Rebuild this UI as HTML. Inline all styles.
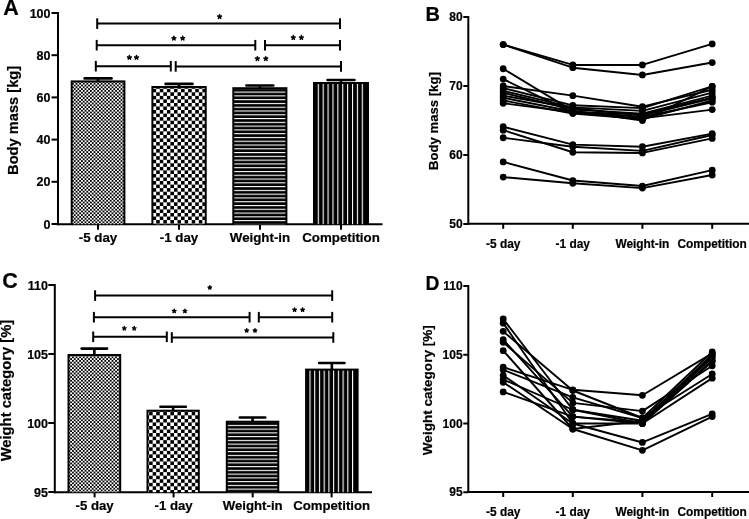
<!DOCTYPE html>
<html><head><meta charset="utf-8"><title>Figure</title>
<style>html,body{margin:0;padding:0;background:#fff;width:749px;height:519px;overflow:hidden}svg{display:block;will-change:transform}text{font-family:"Liberation Sans",sans-serif;font-weight:bold;stroke:#000;stroke-width:0.2px}</style>
</head><body>
<svg width="749" height="519" viewBox="0 0 749 519" font-family='"Liberation Sans", sans-serif' font-weight="bold">
<defs><pattern id="p1a" patternUnits="userSpaceOnUse" width="3.6" height="3.6"><rect width="3.6" height="3.6" fill="#fff"/><rect width="1.8" height="1.8" fill="#000"/><rect x="1.8" y="1.8" width="1.8" height="1.8" fill="#000"/></pattern><pattern id="p2a" patternUnits="userSpaceOnUse" width="7.1" height="7.1"><rect width="7.1" height="7.1" fill="#fff"/><rect width="3.55" height="3.55" fill="#000"/><rect x="3.55" y="3.55" width="3.55" height="3.55" fill="#000"/></pattern><pattern id="p3a" patternUnits="userSpaceOnUse" width="10" height="3.78" patternTransform="translate(0 152.050)"><rect width="10" height="3.78" fill="#000"/><rect y="0" width="10" height="1.1" fill="#fff"/></pattern><pattern id="p4a" patternUnits="userSpaceOnUse" width="4.89" height="10" patternTransform="translate(317.750 0)"><rect width="4.89" height="10" fill="#000"/><rect x="0" width="1.1" height="10" fill="#fff"/></pattern><pattern id="p1c" patternUnits="userSpaceOnUse" width="3.6" height="3.6"><rect width="3.6" height="3.6" fill="#fff"/><rect width="1.8" height="1.8" fill="#000"/><rect x="1.8" y="1.8" width="1.8" height="1.8" fill="#000"/></pattern><pattern id="p2c" patternUnits="userSpaceOnUse" width="7.1" height="7.1"><rect width="7.1" height="7.1" fill="#fff"/><rect width="3.55" height="3.55" fill="#000"/><rect x="3.55" y="3.55" width="3.55" height="3.55" fill="#000"/></pattern><pattern id="p3c" patternUnits="userSpaceOnUse" width="10" height="3.75" patternTransform="translate(0 439.850)"><rect width="10" height="3.75" fill="#000"/><rect y="0" width="10" height="1.1" fill="#fff"/></pattern><pattern id="p4c" patternUnits="userSpaceOnUse" width="4.73" height="10" patternTransform="translate(309.450 0)"><rect width="4.73" height="10" fill="#000"/><rect x="0" width="1.1" height="10" fill="#fff"/></pattern></defs>
<rect width="749" height="519" fill="#fff"/>
<line x1="58.00" y1="12.00" x2="58.00" y2="225.20" stroke="#000" stroke-width="2"/>
<line x1="51.50" y1="224.00" x2="58.00" y2="224.00" stroke="#000" stroke-width="2"/>
<text x="50.50" y="228.50" font-size="12.5" text-anchor="end" >0</text>
<line x1="51.50" y1="181.80" x2="58.00" y2="181.80" stroke="#000" stroke-width="2"/>
<text x="50.50" y="186.30" font-size="12.5" text-anchor="end" >20</text>
<line x1="51.50" y1="139.60" x2="58.00" y2="139.60" stroke="#000" stroke-width="2"/>
<text x="50.50" y="144.10" font-size="12.5" text-anchor="end" >40</text>
<line x1="51.50" y1="97.40" x2="58.00" y2="97.40" stroke="#000" stroke-width="2"/>
<text x="50.50" y="101.90" font-size="12.5" text-anchor="end" >60</text>
<line x1="51.50" y1="55.20" x2="58.00" y2="55.20" stroke="#000" stroke-width="2"/>
<text x="50.50" y="59.70" font-size="12.5" text-anchor="end" >80</text>
<line x1="51.50" y1="13.00" x2="58.00" y2="13.00" stroke="#000" stroke-width="2"/>
<text x="50.50" y="17.50" font-size="12.5" text-anchor="end" >100</text>
<line x1="57.00" y1="224.20" x2="382.50" y2="224.20" stroke="#000" stroke-width="2"/>
<line x1="98.00" y1="224.20" x2="98.00" y2="229.80" stroke="#000" stroke-width="2"/>
<text x="98.00" y="242.40" font-size="13.3" text-anchor="middle" >-5 day</text>
<line x1="179.00" y1="224.20" x2="179.00" y2="229.80" stroke="#000" stroke-width="2"/>
<text x="179.00" y="242.40" font-size="13.3" text-anchor="middle" >-1 day</text>
<line x1="260.00" y1="224.20" x2="260.00" y2="229.80" stroke="#000" stroke-width="2"/>
<text x="260.00" y="242.40" font-size="13.3" text-anchor="middle" >Weight-in</text>
<line x1="341.00" y1="224.20" x2="341.00" y2="229.80" stroke="#000" stroke-width="2"/>
<text x="341.00" y="242.40" font-size="13.3" text-anchor="middle" >Competition</text>
<line x1="98.05" y1="78.40" x2="98.05" y2="81.40" stroke="#000" stroke-width="2.6"/>
<line x1="84.60" y1="78.40" x2="111.50" y2="78.40" stroke="#000" stroke-width="2.6" stroke-linecap="round"/>
<rect x="70.70" y="80.40" width="54.70" height="143.80" fill="#000"/>
<rect x="72.70" y="82.40" width="50.70" height="141.80" fill="url(#p1a)"/>
<line x1="179.05" y1="83.90" x2="179.05" y2="87.00" stroke="#000" stroke-width="2.6"/>
<line x1="165.60" y1="83.90" x2="192.50" y2="83.90" stroke="#000" stroke-width="2.6" stroke-linecap="round"/>
<rect x="151.40" y="86.00" width="55.30" height="138.20" fill="#000"/>
<rect x="153.40" y="88.00" width="51.30" height="136.20" fill="url(#p2a)"/>
<line x1="259.85" y1="85.50" x2="259.85" y2="88.20" stroke="#000" stroke-width="2.6"/>
<line x1="246.40" y1="85.50" x2="273.30" y2="85.50" stroke="#000" stroke-width="2.6" stroke-linecap="round"/>
<rect x="232.30" y="87.20" width="55.10" height="137.00" fill="#000"/>
<rect x="234.30" y="89.20" width="51.10" height="135.00" fill="url(#p3a)"/>
<line x1="341.00" y1="80.00" x2="341.00" y2="83.00" stroke="#000" stroke-width="2.6"/>
<line x1="327.55" y1="80.00" x2="354.45" y2="80.00" stroke="#000" stroke-width="2.6" stroke-linecap="round"/>
<rect x="313.00" y="82.00" width="56.00" height="142.20" fill="#000"/>
<rect x="315.00" y="84.00" width="51.00" height="140.20" fill="url(#p4a)"/>
<line x1="97.20" y1="23.60" x2="340.00" y2="23.60" stroke="#000" stroke-width="2"/>
<line x1="97.20" y1="18.30" x2="97.20" y2="28.90" stroke="#000" stroke-width="2"/>
<line x1="340.00" y1="18.30" x2="340.00" y2="28.90" stroke="#000" stroke-width="2"/>
<line x1="96.70" y1="45.20" x2="255.30" y2="45.20" stroke="#000" stroke-width="2"/>
<line x1="96.70" y1="39.90" x2="96.70" y2="50.50" stroke="#000" stroke-width="2"/>
<line x1="255.30" y1="39.90" x2="255.30" y2="50.50" stroke="#000" stroke-width="2"/>
<line x1="265.00" y1="45.20" x2="340.00" y2="45.20" stroke="#000" stroke-width="2"/>
<line x1="265.00" y1="39.90" x2="265.00" y2="50.50" stroke="#000" stroke-width="2"/>
<line x1="340.00" y1="39.90" x2="340.00" y2="50.50" stroke="#000" stroke-width="2"/>
<line x1="95.80" y1="66.20" x2="170.80" y2="66.20" stroke="#000" stroke-width="2"/>
<line x1="95.80" y1="60.90" x2="95.80" y2="71.50" stroke="#000" stroke-width="2"/>
<line x1="170.80" y1="60.90" x2="170.80" y2="71.50" stroke="#000" stroke-width="2"/>
<line x1="175.70" y1="66.40" x2="341.00" y2="66.40" stroke="#000" stroke-width="2"/>
<line x1="175.70" y1="61.10" x2="175.70" y2="71.70" stroke="#000" stroke-width="2"/>
<line x1="341.00" y1="61.10" x2="341.00" y2="71.70" stroke="#000" stroke-width="2"/>
<path d="M219.60 16.70L219.60 14.75M219.60 16.70L221.45 16.10M219.60 16.70L220.75 18.28M219.60 16.70L218.45 18.28M219.60 16.70L217.75 16.10" stroke="#000" stroke-width="1.6" stroke-linecap="round" fill="none"/>
<path d="M173.90 38.30L173.90 36.35M173.90 38.30L175.75 37.70M173.90 38.30L175.05 39.88M173.90 38.30L172.75 39.88M173.90 38.30L172.05 37.70" stroke="#000" stroke-width="1.6" stroke-linecap="round" fill="none"/>
<path d="M182.70 38.30L182.70 36.35M182.70 38.30L184.55 37.70M182.70 38.30L183.85 39.88M182.70 38.30L181.55 39.88M182.70 38.30L180.85 37.70" stroke="#000" stroke-width="1.6" stroke-linecap="round" fill="none"/>
<path d="M293.30 37.60L293.30 35.65M293.30 37.60L295.15 37.00M293.30 37.60L294.45 39.18M293.30 37.60L292.15 39.18M293.30 37.60L291.45 37.00" stroke="#000" stroke-width="1.6" stroke-linecap="round" fill="none"/>
<path d="M301.40 37.60L301.40 35.65M301.40 37.60L303.25 37.00M301.40 37.60L302.55 39.18M301.40 37.60L300.25 39.18M301.40 37.60L299.55 37.00" stroke="#000" stroke-width="1.6" stroke-linecap="round" fill="none"/>
<path d="M129.40 57.50L129.40 55.55M129.40 57.50L131.25 56.90M129.40 57.50L130.55 59.08M129.40 57.50L128.25 59.08M129.40 57.50L127.55 56.90" stroke="#000" stroke-width="1.6" stroke-linecap="round" fill="none"/>
<path d="M136.50 57.50L136.50 55.55M136.50 57.50L138.35 56.90M136.50 57.50L137.65 59.08M136.50 57.50L135.35 59.08M136.50 57.50L134.65 56.90" stroke="#000" stroke-width="1.6" stroke-linecap="round" fill="none"/>
<path d="M257.40 58.70L257.40 56.75M257.40 58.70L259.25 58.10M257.40 58.70L258.55 60.28M257.40 58.70L256.25 60.28M257.40 58.70L255.55 58.10" stroke="#000" stroke-width="1.6" stroke-linecap="round" fill="none"/>
<path d="M265.80 58.70L265.80 56.75M265.80 58.70L267.65 58.10M265.80 58.70L266.95 60.28M265.80 58.70L264.65 60.28M265.80 58.70L263.95 58.10" stroke="#000" stroke-width="1.6" stroke-linecap="round" fill="none"/>
<text x="18.3" y="120.4" font-size="14.65" text-anchor="middle" transform="rotate(-90 18.3 120.4)">Body mass [kg]</text>
<text x="3.20" y="14.60" font-size="21.5" text-anchor="start" >A</text>
<line x1="54.80" y1="284.00" x2="54.80" y2="493.20" stroke="#000" stroke-width="2"/>
<line x1="48.30" y1="285.00" x2="54.80" y2="285.00" stroke="#000" stroke-width="2"/>
<text x="48.00" y="289.50" font-size="12.5" text-anchor="end" >110</text>
<line x1="48.30" y1="354.00" x2="54.80" y2="354.00" stroke="#000" stroke-width="2"/>
<text x="48.00" y="358.50" font-size="12.5" text-anchor="end" >105</text>
<line x1="48.30" y1="423.00" x2="54.80" y2="423.00" stroke="#000" stroke-width="2"/>
<text x="48.00" y="427.50" font-size="12.5" text-anchor="end" >100</text>
<line x1="48.30" y1="492.00" x2="54.80" y2="492.00" stroke="#000" stroke-width="2"/>
<text x="48.00" y="496.50" font-size="12.5" text-anchor="end" >95</text>
<line x1="53.80" y1="492.20" x2="372.00" y2="492.20" stroke="#000" stroke-width="2"/>
<line x1="94.60" y1="492.20" x2="94.60" y2="497.40" stroke="#000" stroke-width="2"/>
<text x="94.60" y="510.40" font-size="13.2" text-anchor="middle" >-5 day</text>
<line x1="173.60" y1="492.20" x2="173.60" y2="497.40" stroke="#000" stroke-width="2"/>
<text x="173.60" y="510.40" font-size="13.2" text-anchor="middle" >-1 day</text>
<line x1="252.70" y1="492.20" x2="252.70" y2="497.40" stroke="#000" stroke-width="2"/>
<text x="252.70" y="510.40" font-size="13.2" text-anchor="middle" >Weight-in</text>
<line x1="331.60" y1="492.20" x2="331.60" y2="497.40" stroke="#000" stroke-width="2"/>
<text x="331.60" y="510.40" font-size="13.2" text-anchor="middle" >Competition</text>
<line x1="94.35" y1="348.60" x2="94.35" y2="355.00" stroke="#000" stroke-width="2.6"/>
<line x1="81.65" y1="348.60" x2="107.05" y2="348.60" stroke="#000" stroke-width="2.6" stroke-linecap="round"/>
<rect x="67.50" y="354.00" width="53.70" height="138.20" fill="#000"/>
<rect x="69.50" y="356.00" width="49.70" height="136.20" fill="url(#p1c)"/>
<line x1="173.15" y1="406.70" x2="173.15" y2="410.70" stroke="#000" stroke-width="2.6"/>
<line x1="160.45" y1="406.70" x2="185.85" y2="406.70" stroke="#000" stroke-width="2.6" stroke-linecap="round"/>
<rect x="146.50" y="409.70" width="53.30" height="82.50" fill="#000"/>
<rect x="148.50" y="411.70" width="49.30" height="80.50" fill="url(#p2c)"/>
<line x1="252.55" y1="417.50" x2="252.55" y2="421.70" stroke="#000" stroke-width="2.6"/>
<line x1="239.85" y1="417.50" x2="265.25" y2="417.50" stroke="#000" stroke-width="2.6" stroke-linecap="round"/>
<rect x="225.80" y="420.70" width="53.50" height="71.50" fill="#000"/>
<rect x="227.80" y="422.70" width="49.50" height="69.50" fill="url(#p3c)"/>
<line x1="331.85" y1="363.00" x2="331.85" y2="369.60" stroke="#000" stroke-width="2.6"/>
<line x1="319.15" y1="363.00" x2="344.55" y2="363.00" stroke="#000" stroke-width="2.6" stroke-linecap="round"/>
<rect x="305.10" y="368.60" width="53.50" height="123.60" fill="#000"/>
<rect x="307.10" y="370.60" width="48.50" height="121.60" fill="url(#p4c)"/>
<line x1="95.10" y1="295.60" x2="332.20" y2="295.60" stroke="#000" stroke-width="2"/>
<line x1="95.10" y1="290.30" x2="95.10" y2="300.90" stroke="#000" stroke-width="2"/>
<line x1="332.20" y1="290.30" x2="332.20" y2="300.90" stroke="#000" stroke-width="2"/>
<line x1="93.90" y1="317.20" x2="249.60" y2="317.20" stroke="#000" stroke-width="2"/>
<line x1="93.90" y1="311.90" x2="93.90" y2="322.50" stroke="#000" stroke-width="2"/>
<line x1="249.60" y1="311.90" x2="249.60" y2="322.50" stroke="#000" stroke-width="2"/>
<line x1="258.80" y1="317.20" x2="332.20" y2="317.20" stroke="#000" stroke-width="2"/>
<line x1="258.80" y1="311.90" x2="258.80" y2="322.50" stroke="#000" stroke-width="2"/>
<line x1="332.20" y1="311.90" x2="332.20" y2="322.50" stroke="#000" stroke-width="2"/>
<line x1="93.20" y1="336.80" x2="166.80" y2="336.80" stroke="#000" stroke-width="2"/>
<line x1="93.20" y1="331.50" x2="93.20" y2="342.10" stroke="#000" stroke-width="2"/>
<line x1="166.80" y1="331.50" x2="166.80" y2="342.10" stroke="#000" stroke-width="2"/>
<line x1="171.80" y1="337.50" x2="333.30" y2="337.50" stroke="#000" stroke-width="2"/>
<line x1="171.80" y1="332.20" x2="171.80" y2="342.80" stroke="#000" stroke-width="2"/>
<line x1="333.30" y1="332.20" x2="333.30" y2="342.80" stroke="#000" stroke-width="2"/>
<path d="M209.80 287.50L209.80 285.70M209.80 287.50L211.51 286.94M209.80 287.50L210.86 288.96M209.80 287.50L208.74 288.96M209.80 287.50L208.09 286.94" stroke="#000" stroke-width="1.5" stroke-linecap="round" fill="none"/>
<path d="M174.20 311.10L174.20 309.30M174.20 311.10L175.91 310.54M174.20 311.10L175.26 312.56M174.20 311.10L173.14 312.56M174.20 311.10L172.49 310.54" stroke="#000" stroke-width="1.5" stroke-linecap="round" fill="none"/>
<path d="M184.90 311.10L184.90 309.30M184.90 311.10L186.61 310.54M184.90 311.10L185.96 312.56M184.90 311.10L183.84 312.56M184.90 311.10L183.19 310.54" stroke="#000" stroke-width="1.5" stroke-linecap="round" fill="none"/>
<path d="M294.60 309.80L294.60 308.00M294.60 309.80L296.31 309.24M294.60 309.80L295.66 311.26M294.60 309.80L293.54 311.26M294.60 309.80L292.89 309.24" stroke="#000" stroke-width="1.5" stroke-linecap="round" fill="none"/>
<path d="M302.60 309.80L302.60 308.00M302.60 309.80L304.31 309.24M302.60 309.80L303.66 311.26M302.60 309.80L301.54 311.26M302.60 309.80L300.89 309.24" stroke="#000" stroke-width="1.5" stroke-linecap="round" fill="none"/>
<path d="M124.30 328.40L124.30 326.60M124.30 328.40L126.01 327.84M124.30 328.40L125.36 329.86M124.30 328.40L123.24 329.86M124.30 328.40L122.59 327.84" stroke="#000" stroke-width="1.5" stroke-linecap="round" fill="none"/>
<path d="M134.20 328.40L134.20 326.60M134.20 328.40L135.91 327.84M134.20 328.40L135.26 329.86M134.20 328.40L133.14 329.86M134.20 328.40L132.49 327.84" stroke="#000" stroke-width="1.5" stroke-linecap="round" fill="none"/>
<path d="M246.70 330.50L246.70 328.70M246.70 330.50L248.41 329.94M246.70 330.50L247.76 331.96M246.70 330.50L245.64 331.96M246.70 330.50L244.99 329.94" stroke="#000" stroke-width="1.5" stroke-linecap="round" fill="none"/>
<path d="M255.00 330.50L255.00 328.70M255.00 330.50L256.71 329.94M255.00 330.50L256.06 331.96M255.00 330.50L253.94 331.96M255.00 330.50L253.29 329.94" stroke="#000" stroke-width="1.5" stroke-linecap="round" fill="none"/>
<text x="10.9" y="390.6" font-size="14.75" text-anchor="middle" transform="rotate(-90 10.9 390.6)">Weight category [%]</text>
<text x="2.30" y="288.30" font-size="21.5" text-anchor="start" >C</text>
<line x1="468.30" y1="16.00" x2="468.30" y2="224.80" stroke="#000" stroke-width="2"/>
<line x1="463.30" y1="17.00" x2="468.30" y2="17.00" stroke="#000" stroke-width="2"/>
<text x="462.60" y="21.10" font-size="12" text-anchor="end" >80</text>
<line x1="463.30" y1="86.00" x2="468.30" y2="86.00" stroke="#000" stroke-width="2"/>
<text x="462.60" y="90.10" font-size="12" text-anchor="end" >70</text>
<line x1="463.30" y1="155.00" x2="468.30" y2="155.00" stroke="#000" stroke-width="2"/>
<text x="462.60" y="159.10" font-size="12" text-anchor="end" >60</text>
<line x1="463.30" y1="224.00" x2="468.30" y2="224.00" stroke="#000" stroke-width="2"/>
<text x="462.60" y="228.10" font-size="12" text-anchor="end" >50</text>
<line x1="467.30" y1="223.80" x2="749.00" y2="223.80" stroke="#000" stroke-width="2"/>
<line x1="503.20" y1="223.80" x2="503.20" y2="228.80" stroke="#000" stroke-width="2"/>
<text x="503.20" y="247.70" font-size="11.9" text-anchor="middle" >-5 day</text>
<line x1="572.80" y1="223.80" x2="572.80" y2="228.80" stroke="#000" stroke-width="2"/>
<text x="572.80" y="247.70" font-size="11.9" text-anchor="middle" >-1 day</text>
<line x1="642.40" y1="223.80" x2="642.40" y2="228.80" stroke="#000" stroke-width="2"/>
<text x="642.40" y="247.70" font-size="11.9" text-anchor="middle" >Weight-in</text>
<line x1="712.20" y1="223.80" x2="712.20" y2="228.80" stroke="#000" stroke-width="2"/>
<text x="712.20" y="247.70" font-size="11.9" text-anchor="middle" >Competition</text>
<polyline points="503.20,44.60 572.80,64.96 642.40,64.96 712.20,43.91" fill="none" stroke="#000" stroke-width="1.9" stroke-linejoin="round"/>
<polyline points="503.20,44.60 572.80,67.71 642.40,74.96 712.20,62.54" fill="none" stroke="#000" stroke-width="1.9" stroke-linejoin="round"/>
<polyline points="503.20,68.75 572.80,110.84 642.40,120.50 712.20,86.41" fill="none" stroke="#000" stroke-width="1.9" stroke-linejoin="round"/>
<polyline points="503.20,79.10 572.80,112.91 642.40,118.43 712.20,109.60" fill="none" stroke="#000" stroke-width="1.9" stroke-linejoin="round"/>
<polyline points="503.20,86.00 572.80,95.66 642.40,106.70 712.20,89.79" fill="none" stroke="#000" stroke-width="1.9" stroke-linejoin="round"/>
<polyline points="503.20,88.07 572.80,105.32 642.40,108.08 712.20,86.41" fill="none" stroke="#000" stroke-width="1.9" stroke-linejoin="round"/>
<polyline points="503.20,90.83 572.80,107.39 642.40,110.84 712.20,92.62" fill="none" stroke="#000" stroke-width="1.9" stroke-linejoin="round"/>
<polyline points="503.20,92.90 572.80,109.46 642.40,113.60 712.20,95.66" fill="none" stroke="#000" stroke-width="1.9" stroke-linejoin="round"/>
<polyline points="503.20,95.66 572.80,108.08 642.40,115.67 712.20,98.28" fill="none" stroke="#000" stroke-width="1.9" stroke-linejoin="round"/>
<polyline points="503.20,97.73 572.80,111.53 642.40,117.05 712.20,102.21" fill="none" stroke="#000" stroke-width="1.9" stroke-linejoin="round"/>
<polyline points="503.20,100.49 572.80,113.60 642.40,119.12 712.20,100.49" fill="none" stroke="#000" stroke-width="1.9" stroke-linejoin="round"/>
<polyline points="503.20,103.25 572.80,112.22 642.40,114.29 712.20,97.73" fill="none" stroke="#000" stroke-width="1.9" stroke-linejoin="round"/>
<polyline points="503.20,126.71 572.80,144.65 642.40,146.72 712.20,133.61" fill="none" stroke="#000" stroke-width="1.9" stroke-linejoin="round"/>
<polyline points="503.20,130.16 572.80,152.24 642.40,152.93 712.20,138.44" fill="none" stroke="#000" stroke-width="1.9" stroke-linejoin="round"/>
<polyline points="503.20,137.75 572.80,146.72 642.40,150.86 712.20,134.99" fill="none" stroke="#000" stroke-width="1.9" stroke-linejoin="round"/>
<polyline points="503.20,161.90 572.80,180.53 642.40,186.05 712.20,170.18" fill="none" stroke="#000" stroke-width="1.9" stroke-linejoin="round"/>
<polyline points="503.20,177.08 572.80,183.29 642.40,188.12 712.20,175.01" fill="none" stroke="#000" stroke-width="1.9" stroke-linejoin="round"/>
<circle cx="503.20" cy="44.60" r="3.4" fill="#000"/>
<circle cx="572.80" cy="64.96" r="3.4" fill="#000"/>
<circle cx="642.40" cy="64.96" r="3.4" fill="#000"/>
<circle cx="712.20" cy="43.91" r="3.4" fill="#000"/>
<circle cx="503.20" cy="44.60" r="3.4" fill="#000"/>
<circle cx="572.80" cy="67.71" r="3.4" fill="#000"/>
<circle cx="642.40" cy="74.96" r="3.4" fill="#000"/>
<circle cx="712.20" cy="62.54" r="3.4" fill="#000"/>
<circle cx="503.20" cy="68.75" r="3.4" fill="#000"/>
<circle cx="572.80" cy="110.84" r="3.4" fill="#000"/>
<circle cx="642.40" cy="120.50" r="3.4" fill="#000"/>
<circle cx="712.20" cy="86.41" r="3.4" fill="#000"/>
<circle cx="503.20" cy="79.10" r="3.4" fill="#000"/>
<circle cx="572.80" cy="112.91" r="3.4" fill="#000"/>
<circle cx="642.40" cy="118.43" r="3.4" fill="#000"/>
<circle cx="712.20" cy="109.60" r="3.4" fill="#000"/>
<circle cx="503.20" cy="86.00" r="3.4" fill="#000"/>
<circle cx="572.80" cy="95.66" r="3.4" fill="#000"/>
<circle cx="642.40" cy="106.70" r="3.4" fill="#000"/>
<circle cx="712.20" cy="89.79" r="3.4" fill="#000"/>
<circle cx="503.20" cy="88.07" r="3.4" fill="#000"/>
<circle cx="572.80" cy="105.32" r="3.4" fill="#000"/>
<circle cx="642.40" cy="108.08" r="3.4" fill="#000"/>
<circle cx="712.20" cy="86.41" r="3.4" fill="#000"/>
<circle cx="503.20" cy="90.83" r="3.4" fill="#000"/>
<circle cx="572.80" cy="107.39" r="3.4" fill="#000"/>
<circle cx="642.40" cy="110.84" r="3.4" fill="#000"/>
<circle cx="712.20" cy="92.62" r="3.4" fill="#000"/>
<circle cx="503.20" cy="92.90" r="3.4" fill="#000"/>
<circle cx="572.80" cy="109.46" r="3.4" fill="#000"/>
<circle cx="642.40" cy="113.60" r="3.4" fill="#000"/>
<circle cx="712.20" cy="95.66" r="3.4" fill="#000"/>
<circle cx="503.20" cy="95.66" r="3.4" fill="#000"/>
<circle cx="572.80" cy="108.08" r="3.4" fill="#000"/>
<circle cx="642.40" cy="115.67" r="3.4" fill="#000"/>
<circle cx="712.20" cy="98.28" r="3.4" fill="#000"/>
<circle cx="503.20" cy="97.73" r="3.4" fill="#000"/>
<circle cx="572.80" cy="111.53" r="3.4" fill="#000"/>
<circle cx="642.40" cy="117.05" r="3.4" fill="#000"/>
<circle cx="712.20" cy="102.21" r="3.4" fill="#000"/>
<circle cx="503.20" cy="100.49" r="3.4" fill="#000"/>
<circle cx="572.80" cy="113.60" r="3.4" fill="#000"/>
<circle cx="642.40" cy="119.12" r="3.4" fill="#000"/>
<circle cx="712.20" cy="100.49" r="3.4" fill="#000"/>
<circle cx="503.20" cy="103.25" r="3.4" fill="#000"/>
<circle cx="572.80" cy="112.22" r="3.4" fill="#000"/>
<circle cx="642.40" cy="114.29" r="3.4" fill="#000"/>
<circle cx="712.20" cy="97.73" r="3.4" fill="#000"/>
<circle cx="503.20" cy="126.71" r="3.4" fill="#000"/>
<circle cx="572.80" cy="144.65" r="3.4" fill="#000"/>
<circle cx="642.40" cy="146.72" r="3.4" fill="#000"/>
<circle cx="712.20" cy="133.61" r="3.4" fill="#000"/>
<circle cx="503.20" cy="130.16" r="3.4" fill="#000"/>
<circle cx="572.80" cy="152.24" r="3.4" fill="#000"/>
<circle cx="642.40" cy="152.93" r="3.4" fill="#000"/>
<circle cx="712.20" cy="138.44" r="3.4" fill="#000"/>
<circle cx="503.20" cy="137.75" r="3.4" fill="#000"/>
<circle cx="572.80" cy="146.72" r="3.4" fill="#000"/>
<circle cx="642.40" cy="150.86" r="3.4" fill="#000"/>
<circle cx="712.20" cy="134.99" r="3.4" fill="#000"/>
<circle cx="503.20" cy="161.90" r="3.4" fill="#000"/>
<circle cx="572.80" cy="180.53" r="3.4" fill="#000"/>
<circle cx="642.40" cy="186.05" r="3.4" fill="#000"/>
<circle cx="712.20" cy="170.18" r="3.4" fill="#000"/>
<circle cx="503.20" cy="177.08" r="3.4" fill="#000"/>
<circle cx="572.80" cy="183.29" r="3.4" fill="#000"/>
<circle cx="642.40" cy="188.12" r="3.4" fill="#000"/>
<circle cx="712.20" cy="175.01" r="3.4" fill="#000"/>
<text x="438" y="121.1" font-size="13.15" text-anchor="middle" transform="rotate(-90 438 121.1)">Body mass [kg]</text>
<text x="425.50" y="20.90" font-size="20" text-anchor="start" >B</text>
<line x1="468.30" y1="285.00" x2="468.30" y2="493.00" stroke="#000" stroke-width="2"/>
<line x1="463.30" y1="286.00" x2="468.30" y2="286.00" stroke="#000" stroke-width="2"/>
<text x="462.60" y="290.10" font-size="12" text-anchor="end" >110</text>
<line x1="463.30" y1="354.75" x2="468.30" y2="354.75" stroke="#000" stroke-width="2"/>
<text x="462.60" y="358.85" font-size="12" text-anchor="end" >105</text>
<line x1="463.30" y1="423.50" x2="468.30" y2="423.50" stroke="#000" stroke-width="2"/>
<text x="462.60" y="427.60" font-size="12" text-anchor="end" >100</text>
<line x1="463.30" y1="492.25" x2="468.30" y2="492.25" stroke="#000" stroke-width="2"/>
<text x="462.60" y="496.35" font-size="12" text-anchor="end" >95</text>
<line x1="467.30" y1="492.00" x2="749.00" y2="492.00" stroke="#000" stroke-width="2"/>
<line x1="503.20" y1="492.00" x2="503.20" y2="497.00" stroke="#000" stroke-width="2"/>
<text x="503.20" y="515.70" font-size="11.9" text-anchor="middle" >-5 day</text>
<line x1="572.80" y1="492.00" x2="572.80" y2="497.00" stroke="#000" stroke-width="2"/>
<text x="572.80" y="515.70" font-size="11.9" text-anchor="middle" >-1 day</text>
<line x1="642.40" y1="492.00" x2="642.40" y2="497.00" stroke="#000" stroke-width="2"/>
<text x="642.40" y="515.70" font-size="11.9" text-anchor="middle" >Weight-in</text>
<line x1="712.20" y1="492.00" x2="712.20" y2="497.00" stroke="#000" stroke-width="2"/>
<text x="712.20" y="515.70" font-size="11.9" text-anchor="middle" >Competition</text>
<polyline points="503.20,319.00 572.80,409.75 642.40,420.75 712.20,354.75" fill="none" stroke="#000" stroke-width="1.9" stroke-linejoin="round"/>
<polyline points="503.20,323.13 572.80,423.50 642.40,423.50 712.20,361.62" fill="none" stroke="#000" stroke-width="1.9" stroke-linejoin="round"/>
<polyline points="503.20,331.37 572.80,390.50 642.40,418.00 712.20,352.00" fill="none" stroke="#000" stroke-width="1.9" stroke-linejoin="round"/>
<polyline points="503.20,339.63 572.80,416.62 642.40,422.13 712.20,357.50" fill="none" stroke="#000" stroke-width="1.9" stroke-linejoin="round"/>
<polyline points="503.20,342.37 572.80,402.88 642.40,411.12 712.20,365.75" fill="none" stroke="#000" stroke-width="1.9" stroke-linejoin="round"/>
<polyline points="503.20,350.63 572.80,429.00 642.40,450.31 712.20,416.62" fill="none" stroke="#000" stroke-width="1.9" stroke-linejoin="round"/>
<polyline points="503.20,367.13 572.80,389.81 642.40,395.31 712.20,353.38" fill="none" stroke="#000" stroke-width="1.9" stroke-linejoin="round"/>
<polyline points="503.20,369.87 572.80,397.37 642.40,418.00 712.20,374.00" fill="none" stroke="#000" stroke-width="1.9" stroke-linejoin="round"/>
<polyline points="503.20,375.38 572.80,423.50 642.40,442.47 712.20,413.87" fill="none" stroke="#000" stroke-width="1.9" stroke-linejoin="round"/>
<polyline points="503.20,379.50 572.80,409.75 642.40,423.50 712.20,378.13" fill="none" stroke="#000" stroke-width="1.9" stroke-linejoin="round"/>
<polyline points="503.20,382.25 572.80,429.00 642.40,420.75 712.20,356.12" fill="none" stroke="#000" stroke-width="1.9" stroke-linejoin="round"/>
<polyline points="503.20,391.88 572.80,416.62 642.40,423.50 712.20,360.25" fill="none" stroke="#000" stroke-width="1.9" stroke-linejoin="round"/>
<circle cx="503.20" cy="319.00" r="3.4" fill="#000"/>
<circle cx="572.80" cy="409.75" r="3.4" fill="#000"/>
<circle cx="642.40" cy="420.75" r="3.4" fill="#000"/>
<circle cx="712.20" cy="354.75" r="3.4" fill="#000"/>
<circle cx="503.20" cy="323.13" r="3.4" fill="#000"/>
<circle cx="572.80" cy="423.50" r="3.4" fill="#000"/>
<circle cx="642.40" cy="423.50" r="3.4" fill="#000"/>
<circle cx="712.20" cy="361.62" r="3.4" fill="#000"/>
<circle cx="503.20" cy="331.37" r="3.4" fill="#000"/>
<circle cx="572.80" cy="390.50" r="3.4" fill="#000"/>
<circle cx="642.40" cy="418.00" r="3.4" fill="#000"/>
<circle cx="712.20" cy="352.00" r="3.4" fill="#000"/>
<circle cx="503.20" cy="339.63" r="3.4" fill="#000"/>
<circle cx="572.80" cy="416.62" r="3.4" fill="#000"/>
<circle cx="642.40" cy="422.13" r="3.4" fill="#000"/>
<circle cx="712.20" cy="357.50" r="3.4" fill="#000"/>
<circle cx="503.20" cy="342.37" r="3.4" fill="#000"/>
<circle cx="572.80" cy="402.88" r="3.4" fill="#000"/>
<circle cx="642.40" cy="411.12" r="3.4" fill="#000"/>
<circle cx="712.20" cy="365.75" r="3.4" fill="#000"/>
<circle cx="503.20" cy="350.63" r="3.4" fill="#000"/>
<circle cx="572.80" cy="429.00" r="3.4" fill="#000"/>
<circle cx="642.40" cy="450.31" r="3.4" fill="#000"/>
<circle cx="712.20" cy="416.62" r="3.4" fill="#000"/>
<circle cx="503.20" cy="367.13" r="3.4" fill="#000"/>
<circle cx="572.80" cy="389.81" r="3.4" fill="#000"/>
<circle cx="642.40" cy="395.31" r="3.4" fill="#000"/>
<circle cx="712.20" cy="353.38" r="3.4" fill="#000"/>
<circle cx="503.20" cy="369.87" r="3.4" fill="#000"/>
<circle cx="572.80" cy="397.37" r="3.4" fill="#000"/>
<circle cx="642.40" cy="418.00" r="3.4" fill="#000"/>
<circle cx="712.20" cy="374.00" r="3.4" fill="#000"/>
<circle cx="503.20" cy="375.38" r="3.4" fill="#000"/>
<circle cx="572.80" cy="423.50" r="3.4" fill="#000"/>
<circle cx="642.40" cy="442.47" r="3.4" fill="#000"/>
<circle cx="712.20" cy="413.87" r="3.4" fill="#000"/>
<circle cx="503.20" cy="379.50" r="3.4" fill="#000"/>
<circle cx="572.80" cy="409.75" r="3.4" fill="#000"/>
<circle cx="642.40" cy="423.50" r="3.4" fill="#000"/>
<circle cx="712.20" cy="378.13" r="3.4" fill="#000"/>
<circle cx="503.20" cy="382.25" r="3.4" fill="#000"/>
<circle cx="572.80" cy="429.00" r="3.4" fill="#000"/>
<circle cx="642.40" cy="420.75" r="3.4" fill="#000"/>
<circle cx="712.20" cy="356.12" r="3.4" fill="#000"/>
<circle cx="503.20" cy="391.88" r="3.4" fill="#000"/>
<circle cx="572.80" cy="416.62" r="3.4" fill="#000"/>
<circle cx="642.40" cy="423.50" r="3.4" fill="#000"/>
<circle cx="712.20" cy="360.25" r="3.4" fill="#000"/>
<text x="432.1" y="390.2" font-size="13.56" text-anchor="middle" transform="rotate(-90 432.1 390.2)">Weight category [%]</text>
<text x="425.50" y="290.30" font-size="19.3" text-anchor="start" >D</text>
</svg>
</body></html>
